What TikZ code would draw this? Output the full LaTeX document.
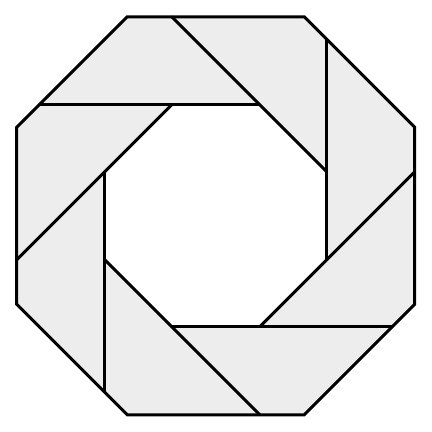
\documentclass[tikz,border=0pt]{standalone}
\usepackage{tikz}
\definecolor{cpanel}{HTML}{EDEDED}
\definecolor{cline}{HTML}{000000}
\begin{document}
\begin{tikzpicture}[x=1pt, y=1pt, line join=miter,
    rim/.style={draw=cline, line width=3pt, fill=cpanel},
    blade/.style={draw=cline, line width=3pt}]
  \useasboundingbox (-215.75,-216.25) rectangle (216.25,215.75);
  % outer octagon
  \path[rim] (-88.5,199) -- (88.5,199) -- (199,88.5) -- (199,-88.5)
    -- (88.5,-199) -- (-88.5,-199) -- (-199,-88.5) -- (-199,88.5) -- cycle;
  % opening
  \fill[white] (-44,111) -- (44,111) -- (111,44) -- (111,-44)
    -- (44,-111) -- (-44,-111) -- (-111,-44) -- (-111,44) -- cycle;
  % Blades
  \foreach \a in {0,90,180,270}{
    \draw[blade, rotate=\a] (44,111) -- (-176.5,111);
    \draw[blade, rotate=\a] (111,44) -- (-44,199);
  }
\end{tikzpicture}
\end{document}
